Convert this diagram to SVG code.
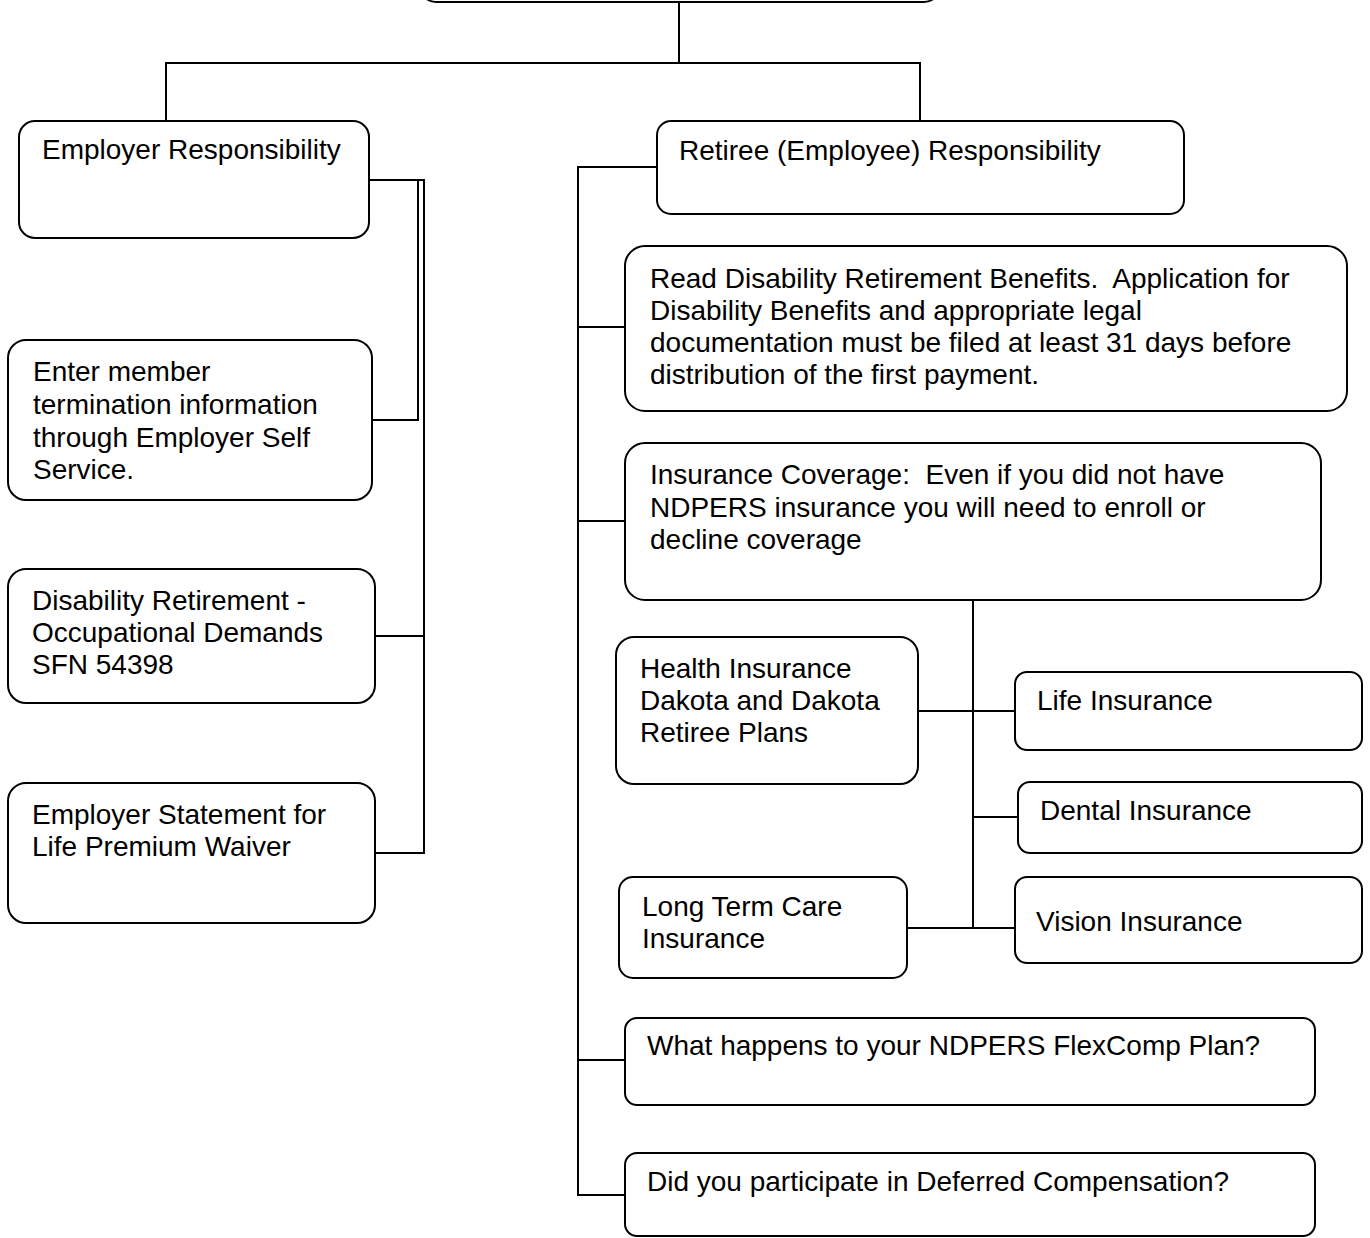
<svg xmlns="http://www.w3.org/2000/svg" width="1370" height="1238" viewBox="0 0 1370 1238">
<style>
.box{fill:#fff;stroke:#000;stroke-width:2}
.t{font-family:"Liberation Sans",Arial,sans-serif;font-size:28px;fill:#000;white-space:pre}
.c{fill:none;stroke:#000;stroke-width:2}
</style>
<rect width="1370" height="1238" fill="#fff"/>
<g id="connectors">
<path class="c" d="M679,2V63M166,121V63H920V121"/>
<path class="c" d="M369,180H424V853H375M372,420H418V180M375,636H424"/>
<path class="c" d="M657,167H578V1195H625M578,327H625M578,521H625M578,1060H625"/>
<path class="c" d="M973,600V928M918,711H1015M973,817H1018M907,928H1015"/>
</g>
<g id="top"><rect class="box" x="420" y="-40" width="520" height="42" rx="16"/></g>
<g id="employer"><rect class="box" x="19" y="121" width="350" height="117" rx="16"/>
<text class="t" x="42" y="159">Employer Responsibility</text></g>
<g id="enter"><rect class="box" x="8" y="340" width="364" height="160" rx="18"/>
<text class="t" x="33" y="381">Enter member</text>
<text class="t" x="33" y="414">termination information</text>
<text class="t" x="33" y="447">through Employer Self</text>
<text class="t" x="33" y="479">Service.</text></g>
<g id="occupational"><rect class="box" x="8" y="569" width="367" height="134" rx="18"/>
<text class="t" x="32" y="610">Disability Retirement -</text>
<text class="t" x="32" y="642">Occupational Demands</text>
<text class="t" x="32" y="674">SFN 54398</text></g>
<g id="statement"><rect class="box" x="8" y="783" width="367" height="140" rx="18"/>
<text class="t" x="32" y="824">Employer Statement for</text>
<text class="t" x="32" y="856">Life Premium Waiver</text></g>
<g id="retiree"><rect class="box" x="657" y="121" width="527" height="93" rx="14"/>
<text class="t" x="679" y="160">Retiree (Employee) Responsibility</text></g>
<g id="read"><rect class="box" x="625" y="246" width="722" height="165" rx="20"/>
<text class="t" x="650" y="288" xml:space="preserve">Read Disability Retirement Benefits.  Application for</text>
<text class="t" x="650" y="320">Disability Benefits and appropriate legal</text>
<text class="t" x="650" y="352">documentation must be filed at least 31 days before</text>
<text class="t" x="650" y="384">distribution of the first payment.</text></g>
<g id="insurance"><rect class="box" x="625" y="443" width="696" height="157" rx="20"/>
<text class="t" x="650" y="484" xml:space="preserve">Insurance Coverage:  Even if you did not have</text>
<text class="t" x="650" y="517">NDPERS insurance you will need to enroll or</text>
<text class="t" x="650" y="549">decline coverage</text></g>
<g id="health"><rect class="box" x="616" y="637" width="302" height="147" rx="18"/>
<text class="t" x="640" y="678">Health Insurance</text>
<text class="t" x="640" y="710">Dakota and Dakota</text>
<text class="t" x="640" y="742">Retiree Plans</text></g>
<g id="life"><rect class="box" x="1015" y="672" width="347" height="78" rx="12"/>
<text class="t" x="1037" y="710">Life Insurance</text></g>
<g id="dental"><rect class="box" x="1018" y="782" width="344" height="71" rx="12"/>
<text class="t" x="1040" y="820">Dental Insurance</text></g>
<g id="ltc"><rect class="box" x="619" y="877" width="288" height="101" rx="14"/>
<text class="t" x="642" y="916">Long Term Care</text>
<text class="t" x="642" y="948">Insurance</text></g>
<g id="vision"><rect class="box" x="1015" y="877" width="347" height="86" rx="12"/>
<text class="t" x="1036" y="931">Vision Insurance</text></g>
<g id="flexcomp"><rect class="box" x="625" y="1018" width="690" height="87" rx="12"/>
<text class="t" x="647" y="1055">What happens to your NDPERS FlexComp Plan?</text></g>
<g id="deferred"><rect class="box" x="625" y="1153" width="690" height="83" rx="12"/>
<text class="t" x="647" y="1191">Did you participate in Deferred Compensation?</text></g>
</svg>
